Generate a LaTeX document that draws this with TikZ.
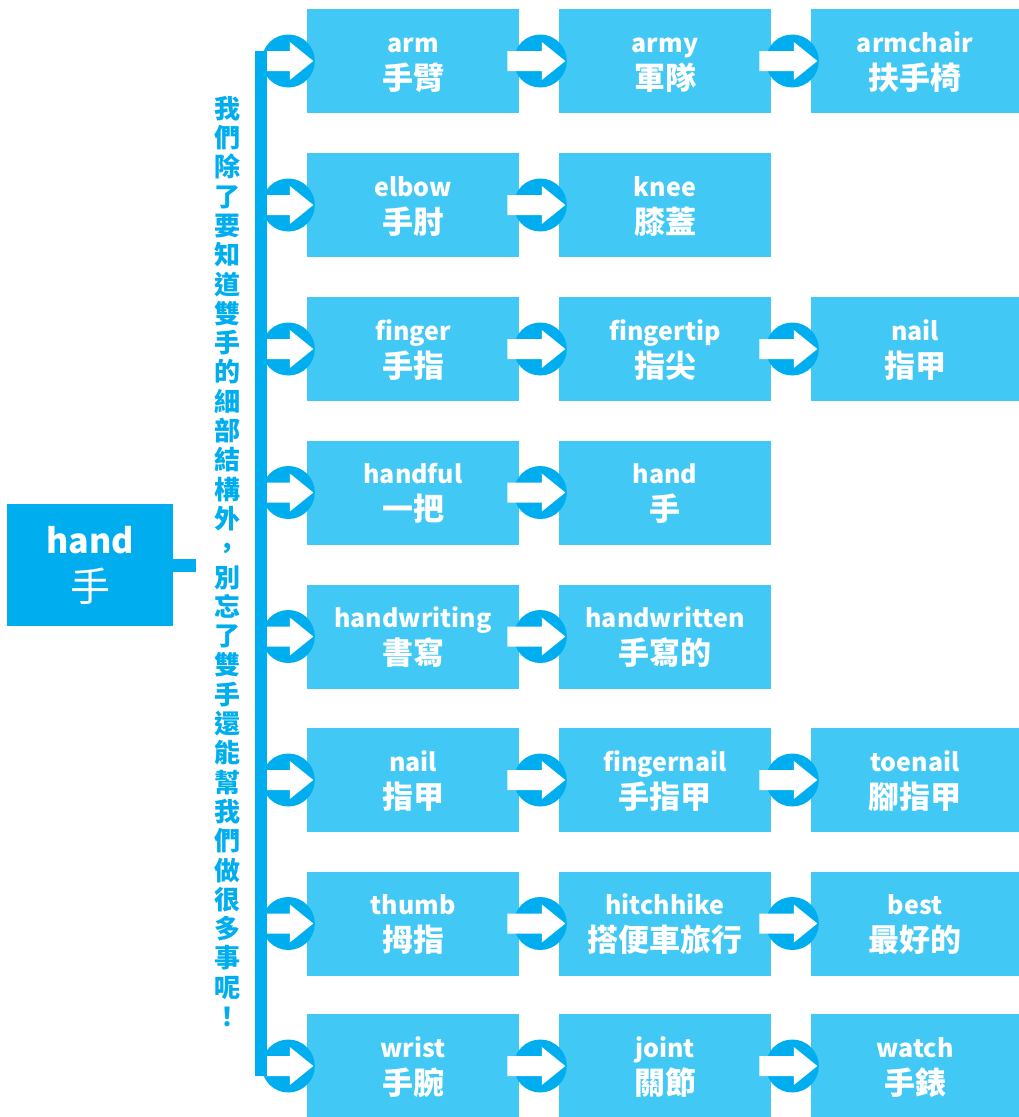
\documentclass[tikz,border=0pt]{standalone}
\usepackage{fontspec}
\setmainfont{Noto Sans CJK TC}
\usetikzlibrary{calc}
\definecolor{handblue}{RGB}{0,174,239}
\definecolor{wordblue}{RGB}{66,200,244}
\newcommand{\pair}[2]{\rule{0pt}{28pt}#1\\{\fontsize{31}{37}\selectfont #2}\rule[-9pt]{0pt}{9pt}}
\newcommand{\linkarrow}[1]{%
    \fill[handblue] ($(#1.west)+(-18.5,0)$) circle (26.5);
    \fill[white] ($(#1.west)+(-51.5,-10)$) -- ++(34.5,0) -- ++(0,-9) -- ++(23.5,19) -- ++(-23.5,19) -- ++(0,-9) -- ++(-34.5,0) -- cycle;
}
\tikzset{
    wordbox/.style={fill=wordblue, text=white, minimum width=212, minimum height=104, inner sep=0, align=center, font=\bfseries\fontsize{25}{37}\selectfont},
    lastbox/.style={wordbox, minimum width=208},
    rootbox/.style={fill=handblue, text=white, minimum width=166, minimum height=122, inner sep=0, align=center, font=\fontsize{34}{48}\selectfont},
    note/.style={text=handblue, align=center, inner sep=0, font=\bfseries\fontsize{26}{29.3}\selectfont}
}

\begin{document}
\begin{tikzpicture}[x=1pt, y=-1pt]
    \useasboundingbox (0,0) rectangle (1019,1117);

    % Root
    \node[rootbox] (root) at (90,565) {\rule{0pt}{36pt}\textbf{hand}\\{\fontsize{40}{48}\selectfont 手}\rule[-12pt]{0pt}{12pt}};
    \coordinate (stub) at (196,565);
    \draw[handblue, line width=13] (root.east) -- (stub);

    % Side text
    \node[note] (note) at (227,561.5) {我\\們\\除\\了\\要\\知\\道\\雙\\手\\的\\細\\部\\結\\構\\外\\，\\別\\忘\\了\\雙\\手\\還\\能\\幫\\我\\們\\做\\很\\多\\事\\呢\\！};

    % Words
    \node[wordbox] (arm) at (413,61) {\pair{arm}{手臂}};
    \node[wordbox] (army) at (665,61) {\pair{army}{軍隊}};
    \node[lastbox] (armchair) at (915,61) {\pair{armchair}{扶手椅}};

    \node[wordbox] (elbow) at (413,205) {\pair{elbow}{手肘}};
    \node[wordbox] (knee) at (665,205) {\pair{knee}{膝蓋}};

    \node[wordbox] (finger) at (413,349) {\pair{finger}{手指}};
    \node[wordbox] (fingertip) at (665,349) {\pair{fingertip}{指尖}};
    \node[lastbox] (nail) at (915,349) {\pair{nail}{指甲}};

    \node[wordbox] (handful) at (413,492.5) {\pair{handful}{一把}};
    \node[wordbox] (hand) at (665,492.5) {\pair{hand}{手}};

    \node[wordbox] (handwriting) at (413,636.5) {\pair{handwriting}{書寫}};
    \node[wordbox] (handwritten) at (665,636.5) {\pair{handwritten}{手寫的}};

    \node[wordbox] (nailb) at (413,780) {\pair{nail}{指甲}};
    \node[wordbox] (fingernail) at (665,780) {\pair{fingernail}{手指甲}};
    \node[lastbox] (toenail) at (915,780) {\pair{toenail}{腳指甲}};

    \node[wordbox] (thumb) at (413,923.5) {\pair{thumb}{拇指}};
    \node[wordbox] (hitchhike) at (665,923.5) {\pair{hitchhike}{搭便車旅行}};
    \node[lastbox] (best) at (915,923.5) {\pair{best}{最好的}};

    \node[wordbox] (wrist) at (413,1066) {\pair{wrist}{手腕}};
    \node[wordbox] (joint) at (665,1066) {\pair{joint}{關節}};
    \node[lastbox] (watch) at (915,1066) {\pair{watch}{手錶}};

    % Arrows
    \foreach \n in {arm,army,armchair,elbow,knee,finger,fingertip,nail,handful,hand,handwriting,handwritten,nailb,fingernail,toenail,thumb,hitchhike,best,wrist,joint,watch}
        {\linkarrow{\n}}

    % Bar
    \coordinate (bartop) at (261,51);
    \coordinate (barbot) at (261,1076);
    \draw[handblue, line width=12] (bartop) -- (barbot);
\end{tikzpicture}
\end{document}
